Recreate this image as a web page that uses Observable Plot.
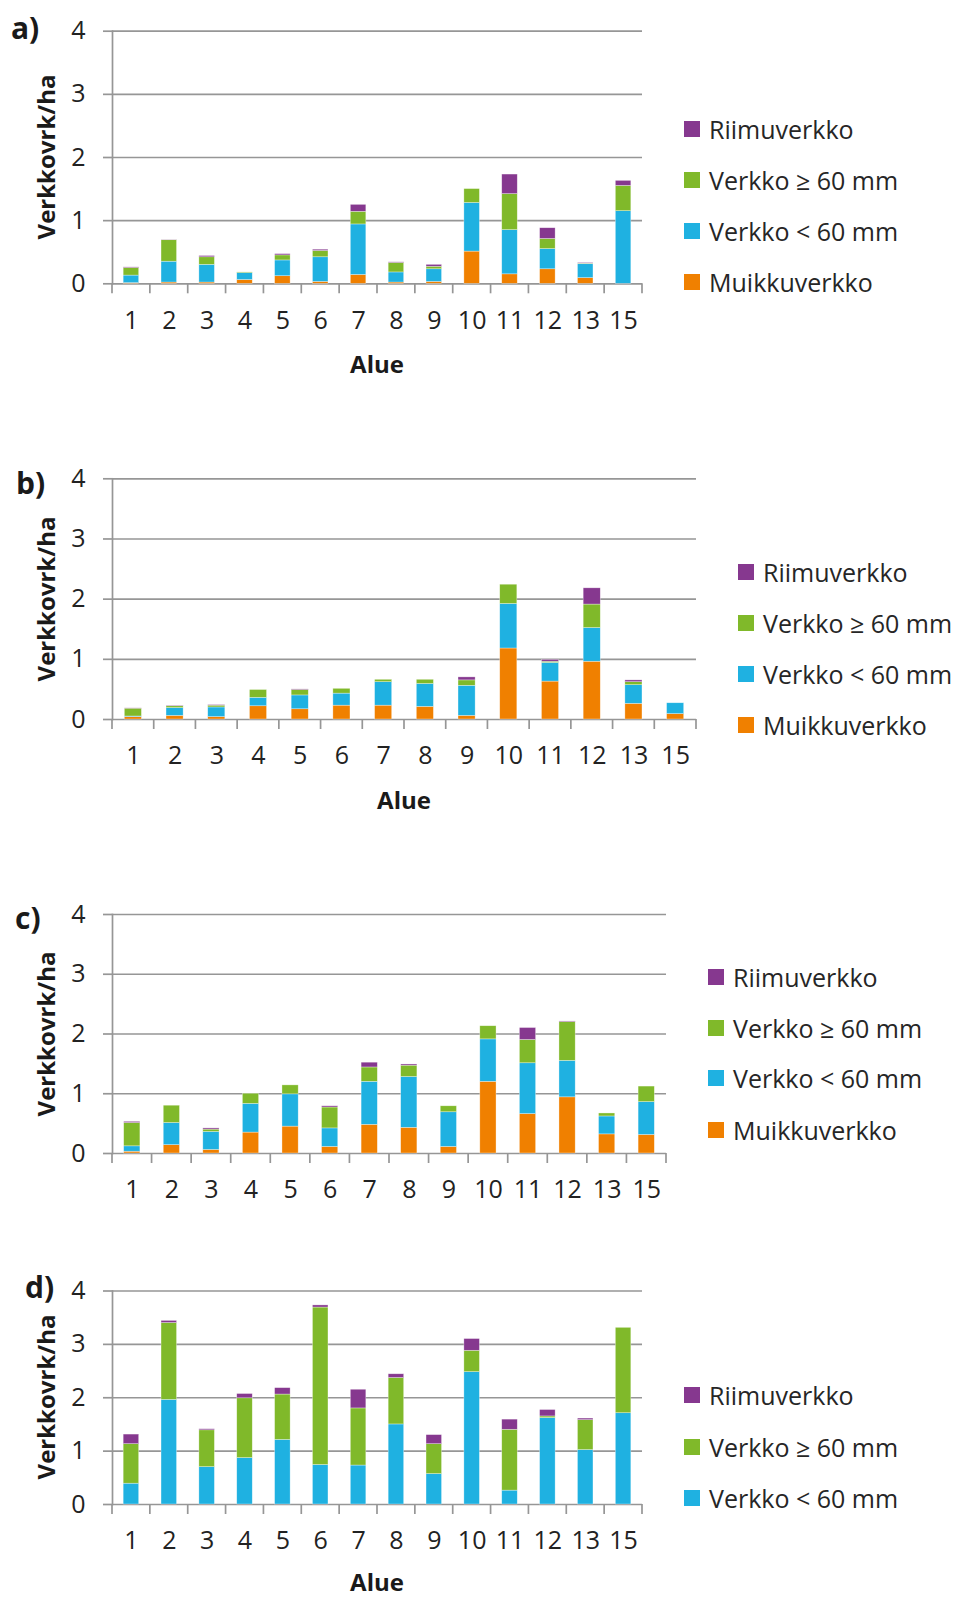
<!DOCTYPE html>
<html lang="fi">
<head>
<meta charset="utf-8">
<script src="https://cdn.jsdelivr.net/npm/d3@7"></script>
<script src="https://cdn.jsdelivr.net/npm/@observablehq/plot@0.6"></script>
<style>
  body { margin: 0; background: #fff; }
  #chart { position: relative; width: 959px; height: 1598px; font-family: "Open Sans", sans-serif; color: #222; overflow: hidden; }
  .panel { position: absolute; left: 0; }
  .tag { position: absolute; font-weight: 700; font-size: 30px; line-height: 30px; color: #1a1a1a; }
  .ytitle { position: absolute; font-weight: 700; font-size: 24px; line-height: 24px; white-space: nowrap; color: #1a1a1a;
            transform: translate(-50%, -50%) rotate(-90deg); }
  .xtitle { position: absolute; font-weight: 700; font-size: 24px; line-height: 24px; white-space: nowrap; color: #1a1a1a;
            transform: translate(-50%, -50%); }
  .legend-row { position: absolute; display: flex; align-items: center; height: 30px; font-size: 25px; white-space: nowrap; color: #262626; transform: translateY(-50%); }
  .legend-row span.sw { display: inline-block; width: 16px; height: 16px; margin-right: 9px; }
</style>
</head>
<body>
<div id="chart"></div>
<script>
// Areas (Alue) on the x axis
const alueet = ["1", "2", "3", "4", "5", "6", "7", "8", "9", "10", "11", "12", "13", "15"];

// Net types, bottom to top in each stack
const sarjat = ["Muikkuverkko", "Verkko < 60 mm", "Verkko ≥ 60 mm", "Riimuverkko"];
const varit = ["#f08000", "#1fb1e1", "#80b92a", "#86388f"];
const yTicks = [0, 1, 2, 3, 4];

// a)
const aMuikku = [0.01, 0.02, 0.02, 0.06, 0.12, 0.03, 0.14, 0.02, 0.03, 0.51, 0.15, 0.23, 0.09, 0];
const aAlle60 = [0.12, 0.33, 0.28, 0.11, 0.25, 0.39, 0.80, 0.16, 0.20, 0.77, 0.70, 0.32, 0.22, 1.15];
const aYli60  = [0.12, 0.34, 0.12, 0.01, 0.08, 0.10, 0.20, 0.15, 0.04, 0.22, 0.57, 0.16, 0.01, 0.40];
const aRiimu  = [0.01, 0.005, 0.02, 0, 0.02, 0.02, 0.11, 0.01, 0.03, 0, 0.31, 0.17, 0.01, 0.08];

// b)
const bMuikku = [0.04, 0.06, 0.04, 0.22, 0.17, 0.23, 0.23, 0.21, 0.06, 1.18, 0.63, 0.96, 0.26, 0.09];
const bAlle60 = [0.01, 0.13, 0.16, 0.14, 0.23, 0.20, 0.39, 0.38, 0.50, 0.74, 0.31, 0.56, 0.31, 0.18];
const bYli60  = [0.13, 0.03, 0.03, 0.13, 0.09, 0.08, 0.04, 0.07, 0.09, 0.32, 0.02, 0.39, 0.05, 0];
const bRiimu  = [0.005, 0.01, 0.01, 0, 0.01, 0, 0, 0, 0.05, 0, 0.03, 0.27, 0.03, 0];

// c)
const cMuikku = [0.03, 0.14, 0.06, 0.35, 0.45, 0.11, 0.48, 0.43, 0.11, 1.20, 0.66, 0.94, 0.32, 0.31];
const cAlle60 = [0.09, 0.37, 0.30, 0.48, 0.54, 0.31, 0.72, 0.85, 0.58, 0.71, 0.85, 0.61, 0.30, 0.55];
const cYli60  = [0.39, 0.29, 0.04, 0.17, 0.15, 0.35, 0.24, 0.19, 0.10, 0.22, 0.39, 0.65, 0.05, 0.26];
const cRiimu  = [0.02, 0, 0.02, 0, 0, 0.02, 0.08, 0.02, 0, 0, 0.20, 0.01, 0, 0];

// d) (no Muikkuverkko)
const dMuikku = [0, 0, 0, 0, 0, 0, 0, 0, 0, 0, 0, 0, 0, 0];
const dAlle60 = [0.39, 1.96, 0.70, 0.87, 1.21, 0.74, 0.73, 1.50, 0.57, 2.48, 0.26, 1.62, 1.02, 1.71];
const dYli60  = [0.74, 1.44, 0.69, 1.12, 0.85, 2.95, 1.07, 0.87, 0.56, 0.40, 1.14, 0.03, 0.56, 1.60];
const dRiimu  = [0.18, 0.04, 0.02, 0.08, 0.12, 0.04, 0.35, 0.07, 0.17, 0.22, 0.19, 0.12, 0.03, 0];

const gridColor = "#969696";
const chart = document.getElementById("chart");

// Legend rows are keyed by series index (0 = Muikkuverkko … 3 = Riimuverkko)
const panels = [
  { tag: "a)", values: [aMuikku, aAlle60, aYli60, aRiimu], top: 0, height: 380, mt: 30.7, mb: 96.7, right: 642,
    tagPos: [11, 13], legend: { x: 684, rows: { 0: 282, 1: 231, 2: 180, 3: 129 } }, legendSeries: [3, 2, 1, 0], alue: 364 },
  { tag: "b)", values: [bMuikku, bAlle60, bYli60, bRiimu], top: 440, height: 380, mt: 38.3, mb: 101, right: 696,
    tagPos: [16, 468], legend: { x: 738, rows: { 0: 725, 1: 674, 2: 623, 3: 572 } }, legendSeries: [3, 2, 1, 0], alue: 800 },
  { tag: "c)", values: [cMuikku, cAlle60, cYli60, cRiimu], top: 870, height: 340, mt: 44, mb: 57, right: 666,
    tagPos: [15, 903], legend: { x: 708, rows: { 0: 1130, 1: 1078, 2: 1028, 3: 977 } }, legendSeries: [3, 2, 1, 0], alue: null },
  { tag: "d)", values: [dMuikku, dAlle60, dYli60, dRiimu], top: 1240, height: 358, mt: 50.5, mb: 94, right: 642,
    tagPos: [25, 1272], legend: { x: 684, rows: { 1: 1498, 2: 1447, 3: 1395 } }, legendSeries: [3, 2, 1], alue: 1582 }
];

function addDiv(cls, text, left, top) {
  const el = document.createElement("div");
  el.className = cls;
  el.textContent = text;
  el.style.left = left + "px";
  el.style.top = top + "px";
  chart.appendChild(el);
  return el;
}

for (const cfg of panels) {
  const rows = [];
  cfg.values.forEach((vals, s) => vals.forEach((v, i) => {
    if (v > 0) rows.push({ alue: alueet[i], sarja: sarjat[s], arvo: v });
  }));

  const plot = Plot.plot({
    width: 959,
    height: cfg.height,
    marginLeft: 112,
    marginRight: 959 - cfg.right,
    marginTop: cfg.mt,
    marginBottom: cfg.mb,
    style: { fontFamily: "Open Sans, sans-serif", fontSize: "25px", color: "#222", overflow: "visible", background: "transparent" },
    x: { domain: alueet, paddingInner: 0.59, paddingOuter: 0.295, round: false, label: null },
    y: { domain: [0, 4], label: null },
    color: { domain: sarjat, range: varit },
    marks: [
      Plot.ruleY(yTicks, { stroke: gridColor, strokeWidth: 1.7 }),
      Plot.barY(rows, { x: "alue", y: "arvo", fill: "sarja", stroke: "#fff", strokeWidth: 0.6, strokeOpacity: 0.55 }),
      Plot.frame({ anchor: "left", stroke: gridColor, strokeWidth: 1.7 }),
      Plot.axisY({ ticks: yTicks, tickSize: 9, tickPadding: 18, stroke: gridColor, strokeWidth: 1.7, fontSize: 25, tickFormat: d => String(d) }),
      Plot.axisX({ tickSize: 0, tickPadding: 27, fontSize: 25 })
    ]
  });

  // Excel-style category boundary ticks below the x axis, placed from the band scale
  const sx = plot.scale("x");
  const sy = plot.scale("y");
  const gap = (sx.step - sx.bandwidth) / 2;
  const edges = alueet.map(a => sx.apply(a) - gap);
  edges.push(sx.apply(alueet[alueet.length - 1]) + sx.bandwidth + gap);
  const y0 = sy.apply(0);
  d3.select(plot).append("g")
    .attr("stroke", gridColor)
    .attr("stroke-width", 1.7)
    .selectAll("line")
    .data(edges)
    .join("line")
    .attr("x1", d => d).attr("x2", d => d)
    .attr("y1", y0).attr("y2", y0 + 10);

  plot.classList.add("panel");
  plot.style.top = cfg.top + "px";
  chart.appendChild(plot);

  // Panel tag, axis titles
  addDiv("tag", cfg.tag, cfg.tagPos[0], cfg.tagPos[1]);
  addDiv("ytitle", "Verkkovrk/ha", 46, cfg.top + (sy.apply(0) + sy.apply(4)) / 2);
  if (cfg.alue !== null) addDiv("xtitle", "Alue", (112 + cfg.right) / 2, cfg.alue);

  // Legend
  cfg.legendSeries.forEach(s => {
    const row = document.createElement("div");
    row.className = "legend-row";
    row.style.left = cfg.legend.x + "px";
    row.style.top = cfg.legend.rows[s] + "px";
    const sw = document.createElement("span");
    sw.className = "sw";
    sw.style.background = varit[s];
    row.appendChild(sw);
    row.appendChild(document.createTextNode(sarjat[s]));
    chart.appendChild(row);
  });
}
</script>
</body>
</html>
